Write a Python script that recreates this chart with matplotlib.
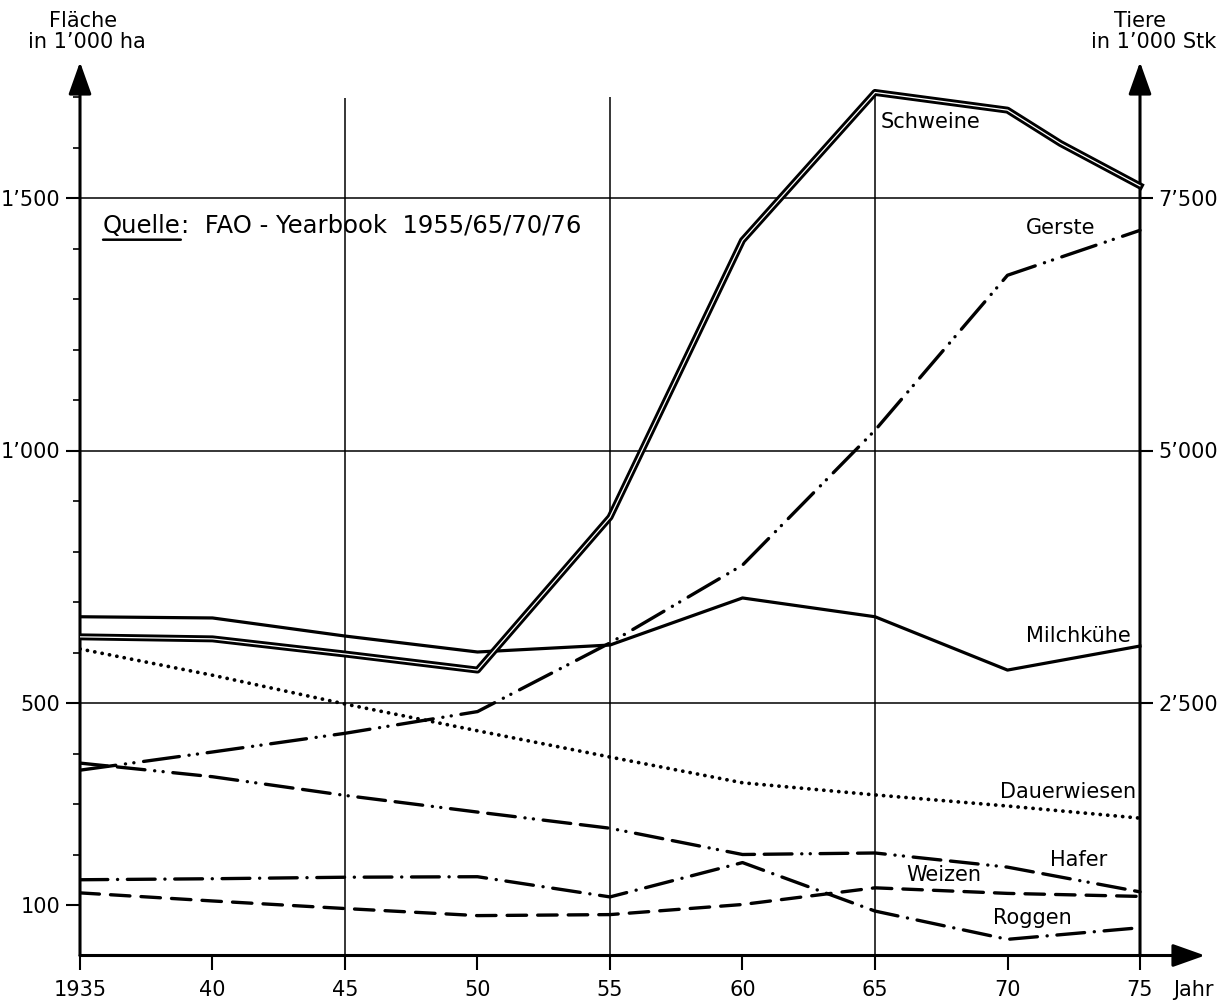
import matplotlib.pyplot as plt

plt.rcParams['font.family'] = ['DejaVu Sans']
plt.rcParams['lines.scale_dashes'] = False

# Jahre
years = [1935, 1940, 1945, 1950, 1955, 1960, 1965, 1970, 1975]
years_schweine = [1935, 1940, 1945, 1950, 1955, 1960, 1965, 1970, 1972, 1975]

# Tiere in 1000 Stk (rechte Achse)
schweine = [3155, 3135, 2985, 2826, 4340, 7080, 8545, 8370, 8040, 7620]
milchkuehe = [3354, 3342, 3163, 3005, 3074, 3540, 3354, 2826, 3064]

# Flaeche in 1000 ha (linke Achse)
gerste = [367, 403, 440, 483, 619, 773, 1040, 1347, 1436]
dauerwiesen = [607, 555, 498, 445, 393, 342, 318, 296, 272]
hafer = [381, 354, 317, 284, 252, 200, 203, 175, 126]
weizen = [124, 108, 93, 79, 81, 101, 134, 123, 117]
roggen = [150, 152, 155, 156, 116, 184, 88, 32, 55]

year_ticks = [1935, 1940, 1945, 1950, 1955, 1960, 1965, 1970, 1975]
year_labels = ['1935', '40', '45', '50', '55', '60', '65', '70', '75']
flaeche_ticks = [100, 500, 1000, 1500]
flaeche_labels = ['100', '500', '1’000', '1’500']
tiere_ticks = [2500, 5000, 7500]
tiere_labels = ['2’500', '5’000', '7’500']

W, H = 1227, 1001
fig = plt.figure(figsize=(W / 100, H / 100), dpi=100)
ax = fig.add_axes([80 / W, 45.5 / H, 1125 / W, 893.5 / H])
xmax = 1935 + 1125 / 26.5
ymax = 893.5 / 0.505
ax.set_xlim(1935, xmax)
ax.set_ylim(0, ymax)

ax2 = ax.twinx()
ax2.set_ylim(0, ymax * 5)

for a in (ax, ax2):
    for s in a.spines.values():
        s.set_visible(False)
ax2.spines['right'].set_position(('data', 1975))

fs = 15
ax.set_xticks(year_ticks, year_labels)
ax.set_yticks(flaeche_ticks, flaeche_labels)
ax.set_yticks(range(100, 1800, 100), minor=True)
ax.tick_params(axis='x', direction='out', length=10, width=1.5, labelsize=fs, pad=8)
ax.tick_params(axis='y', which='major', direction='out', length=10, width=1.5, labelsize=fs, pad=4)
ax.tick_params(axis='y', which='minor', direction='out', length=5, width=1.2)
ax2.set_yticks(tiere_ticks, tiere_labels)
ax2.tick_params(axis='y', direction='out', length=9, width=1.5, labelsize=fs, pad=4)

# Raster
ax.hlines([500, 1000, 1500], 1935, 1975, color='black', lw=1.1)
ax.vlines([1945, 1955, 1965], 0, [1698, 1700, 1715], color='black', lw=1.1)

# Achsen mit Pfeilen
arr = dict(arrowstyle='-|>,head_length=0.9,head_width=0.32', lw=2.2, color='black',
           shrinkA=0, shrinkB=0, mutation_scale=22)
ax.annotate('', xy=(1935, ymax), xytext=(1935, 0), arrowprops=arr, annotation_clip=False)
ax.annotate('', xy=(1975, ymax), xytext=(1975, 0), arrowprops=arr, annotation_clip=False)
ax.annotate('', xy=(xmax, 0), xytext=(1935, 0), arrowprops=arr, annotation_clip=False)

# Linien
rd = dict(color='black', dash_capstyle='round', solid_joinstyle='round')
ax.plot(years, dauerwiesen, lw=2.7, dashes=[0.1, 5.3], **rd)
ax.plot(years, gerste, lw=2.4, dashes=[26, 7, 0.1, 6, 0.1, 7], **rd)
ax.plot(years, hafer, lw=2.4, dashes=[20, 7, 20, 7, 0.1, 6, 0.1, 7], **rd)
ax.plot(years, roggen, lw=2.4, dashes=[20, 7, 0.1, 7], **rd)
ax.plot(years, weizen, lw=2.4, dashes=[14, 8], **rd)
ax2.plot(years, milchkuehe, lw=2.3, color='black', solid_joinstyle='round')
ax2.plot(years_schweine, schweine, lw=5.0, color='black', solid_joinstyle='round')
ax2.plot(years_schweine, schweine, lw=0.9, color='white', solid_joinstyle='round')

# Beschriftungen
ax.text(1965.2, 1650, 'Schweine', fontsize=fs, ha='left', va='center')
ax.text(1970.7, 1440, 'Gerste', fontsize=fs, ha='left', va='center')
ax.text(1970.7, 633, 'Milchkühe', fontsize=fs, ha='left', va='center')
ax.text(1969.7, 324, 'Dauerwiesen', fontsize=fs, ha='left', va='center')
ax.text(1971.6, 189, 'Hafer', fontsize=fs, ha='left', va='center')
ax.text(1966.2, 160, 'Weizen', fontsize=fs, ha='left', va='center')
ax.text(1969.45, 74, 'Roggen', fontsize=fs, ha='left', va='center')

q = ax.text(1935.87, 1445, 'Quelle', fontsize=17.5, ha='left', va='center')
ax.annotate(':  FAO - Yearbook  1955/65/70/76', xy=(1, 0.5), xycoords=q,
            fontsize=17.5, ha='left', va='center')
ax.annotate('', xy=(1, -0.08), xycoords=q, xytext=(0, -0.08), textcoords=q,
            arrowprops=dict(arrowstyle='-', lw=1.8, color='black', shrinkA=0, shrinkB=0))

fig.text(83 / W, 1 - 21 / H, 'Fläche', fontsize=fs, ha='center', va='center')
fig.text(87 / W, 1 - 42 / H, 'in 1’000 ha', fontsize=fs, ha='center', va='center')
fig.text(1140 / W, 1 - 21 / H, 'Tiere', fontsize=fs, ha='center', va='center')
fig.text(1154 / W, 1 - 42 / H, 'in 1’000 Stk', fontsize=fs, ha='center', va='center')
fig.text(1193 / W, 1 - 990 / H, 'Jahr', fontsize=fs, ha='center', va='center')

fig.savefig('out.png', dpi=100)
